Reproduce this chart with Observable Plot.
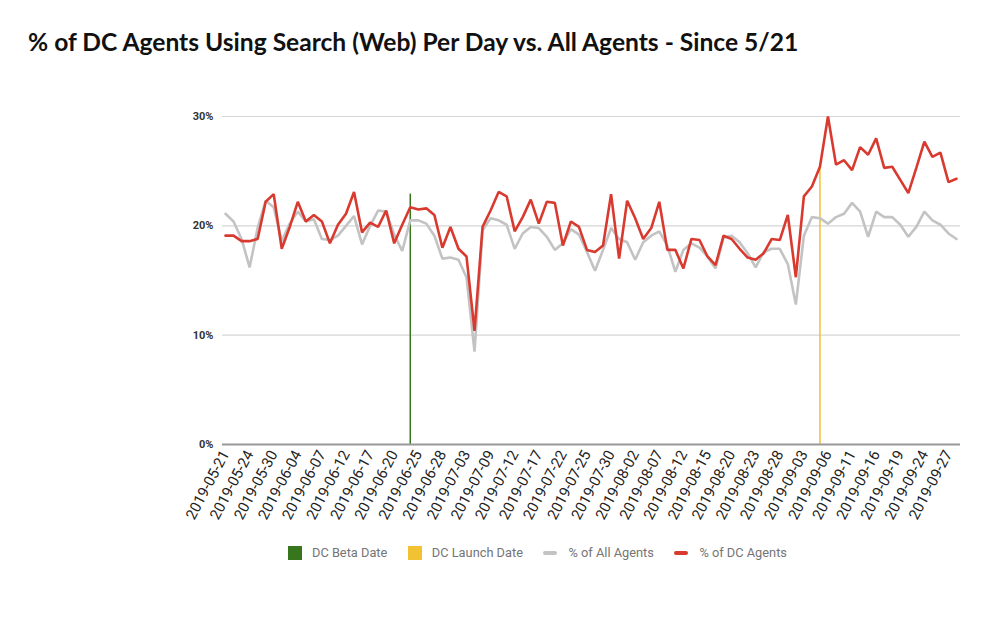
<!DOCTYPE html>
<html>
<head>
<meta charset="utf-8">
<script src="https://cdn.jsdelivr.net/npm/d3@7"></script>
<script src="https://cdn.jsdelivr.net/npm/@observablehq/plot@0.6"></script>
<style>
  html, body { margin: 0; padding: 0; background: #fff; }
  body { width: 998px; height: 630px; position: relative; overflow: hidden; }
  #title { position: absolute; left: 28px; top: 27px; font: 700 24.6px Lato, "Open Sans", sans-serif; color: #111; white-space: nowrap; }
  #chart { position: absolute; left: 0; top: 0; }
  #legend { position: absolute; left: 288px; top: 545px; display: flex; align-items: center; font: 12.8px Roboto, sans-serif; color: #757575; white-space: nowrap; }
  .item { display: flex; align-items: center; margin-right: 20.5px; }
  .sq { width: 14px; height: 14px; margin-right: 10px; }
  .ln { width: 14px; height: 4px; border-radius: 2px; margin-right: 11px; }
</style>
</head>
<body>
<div id="title">% of DC Agents Using Search (Web) Per Day vs. All Agents - Since 5/21</div>
<div id="chart"></div>
<div id="legend"></div>
<script>
const dates = [
  "2019-05-21","2019-05-22","2019-05-23","2019-05-24","2019-05-28","2019-05-29","2019-05-30","2019-05-31",
  "2019-06-03","2019-06-04","2019-06-05","2019-06-06","2019-06-07","2019-06-10","2019-06-11","2019-06-12",
  "2019-06-13","2019-06-14","2019-06-17","2019-06-18","2019-06-19","2019-06-20","2019-06-21","2019-06-24",
  "2019-06-25","2019-06-26","2019-06-27","2019-06-28","2019-07-01","2019-07-02","2019-07-03","2019-07-05",
  "2019-07-08","2019-07-09","2019-07-10","2019-07-11","2019-07-12","2019-07-15","2019-07-16","2019-07-17",
  "2019-07-18","2019-07-19","2019-07-22","2019-07-23","2019-07-24","2019-07-25","2019-07-26","2019-07-29",
  "2019-07-30","2019-07-31","2019-08-01","2019-08-02","2019-08-05","2019-08-06","2019-08-07","2019-08-08",
  "2019-08-09","2019-08-12","2019-08-13","2019-08-14","2019-08-15","2019-08-16","2019-08-19","2019-08-20",
  "2019-08-21","2019-08-22","2019-08-23","2019-08-26","2019-08-27","2019-08-28","2019-08-29","2019-08-30",
  "2019-09-03","2019-09-04","2019-09-05","2019-09-06","2019-09-09","2019-09-10","2019-09-11","2019-09-12",
  "2019-09-13","2019-09-16","2019-09-17","2019-09-18","2019-09-19","2019-09-20","2019-09-23","2019-09-24",
  "2019-09-25","2019-09-26","2019-09-27","2019-09-30"
];
// % of DC Agents
const dcAgents = [
  19.1,19.1,18.6,18.6,18.8,22.2,22.9,17.9,19.9,22.2,
  20.4,21.0,20.4,18.4,20.1,21.1,23.1,19.4,20.3,19.9,
  21.4,18.4,20.1,21.7,21.5,21.6,21.0,18.0,19.9,17.9,
  17.2,10.4,19.9,21.4,23.1,22.7,19.5,20.8,22.4,20.2,
  22.2,22.1,18.2,20.4,19.9,17.8,17.6,18.2,22.9,17.0,
  22.3,20.7,18.8,19.8,22.2,17.8,17.8,16.1,18.8,18.7,
  17.2,16.4,19.1,18.8,17.9,17.1,16.9,17.5,18.8,18.7,
  21.0,15.3,22.7,23.6,25.4,30.0,25.6,26.0,25.1,27.2,
  26.5,28.0,25.3,25.4,24.2,23.0,25.3,27.7,26.3,26.7,
  24.0,24.3
];
// % of All Agents
const allAgents = [
  21.1,20.4,18.8,16.2,19.8,22.3,21.7,18.6,20.2,21.3,
  20.4,20.6,18.8,18.7,19.1,20.0,20.9,18.3,20.0,21.4,
  21.3,19.2,17.7,20.5,20.5,20.2,19.1,17.0,17.1,16.9,
  15.3,8.5,19.6,20.7,20.5,20.1,17.9,19.3,19.9,19.8,
  19.0,17.8,18.4,19.7,19.2,17.6,15.9,17.8,19.8,18.8,
  18.5,16.9,18.5,19.1,19.5,18.2,15.8,17.8,18.4,18.0,
  17.2,16.1,18.9,19.1,18.5,17.5,16.2,17.6,17.9,17.9,
  16.5,12.8,19.1,20.8,20.7,20.2,20.8,21.1,22.1,21.3,
  19.0,21.3,20.8,20.8,20.1,19.0,19.9,21.3,20.5,20.1,
  19.3,18.8
];
const yTicks = [0, 10, 20, 30];
const markers = [
  {name: "DC Beta Date", date: "2019-06-24", value: 22.9, color: "#38761d"},
  {name: "DC Launch Date", date: "2019-09-05", value: 25.4, color: "#f1c232"}
];
const seriesColors = {all: "#c3c3c3", dc: "#d93a2f"};

const rows = dates.map((d, i) => ({i, date: d, dc: dcAgents[i], all: allAgents[i]}));
const markerRows = markers.map(m => ({...m, i: dates.indexOf(m.date)}));
const tickIdx = dates.map((d, i) => i).filter(i => i % 3 === 0);

const chart = Plot.plot({
  width: 998,
  height: 545,
  marginLeft: 222,
  marginRight: 38,
  marginTop: 116,
  marginBottom: 101,
  style: {background: "transparent", fontFamily: "Roboto, sans-serif"},
  x: {type: "linear", domain: [0, dates.length - 1], insetLeft: 3, insetRight: 4},
  y: {domain: [0, 30]},
  marks: [
    Plot.ruleY(yTicks.filter(t => t > 0), {stroke: "#d6d6d6", strokeWidth: 1.2}),
    Plot.axisY({ticks: yTicks, tickFormat: d => d + "%", tickSize: 0, tickPadding: 9,
      fontSize: 11, fontWeight: "bold", fill: "#333", label: null}),
    Plot.axisX({ticks: tickIdx, tickFormat: i => dates[i], tickSize: 0, tickRotate: -62,
      tickPadding: 7, fontSize: 15, fill: "#222", label: null}),
    Plot.ruleX(markerRows, {x: "i", y1: 0, y2: "value", stroke: "color", strokeWidth: 1.5}),
    Plot.ruleY([0], {stroke: "#999", strokeWidth: 2}),
    Plot.line(rows, {x: "i", y: "all", stroke: seriesColors.all, strokeWidth: 2.6, strokeLinejoin: "miter"}),
    Plot.line(rows, {x: "i", y: "dc", stroke: seriesColors.dc, strokeWidth: 2.6, strokeLinejoin: "miter"})
  ]
});
document.getElementById("chart").appendChild(chart);

const legendItems = [
  {label: markers[0].name, color: markers[0].color, kind: "sq"},
  {label: markers[1].name, color: markers[1].color, kind: "sq"},
  {label: "% of All Agents", color: seriesColors.all, kind: "ln"},
  {label: "% of DC Agents", color: seriesColors.dc, kind: "ln"}
];
const legend = document.getElementById("legend");
for (const it of legendItems) {
  const el = document.createElement("div");
  el.className = "item";
  const sw = document.createElement("div");
  sw.className = it.kind;
  sw.style.background = it.color;
  const tx = document.createElement("span");
  tx.textContent = it.label;
  el.appendChild(sw);
  el.appendChild(tx);
  legend.appendChild(el);
}
</script>
</body>
</html>
